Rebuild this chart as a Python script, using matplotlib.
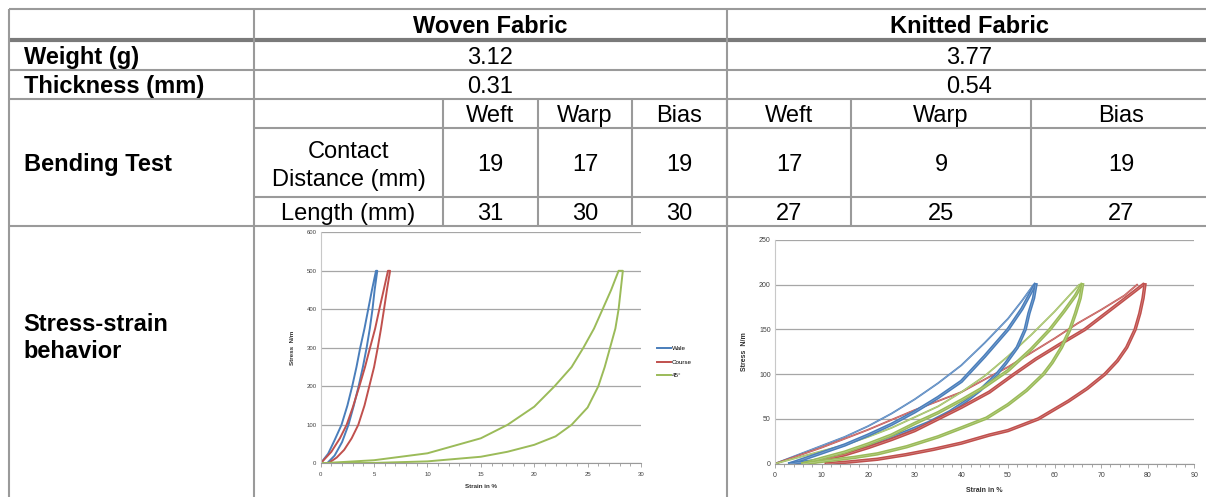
import matplotlib
matplotlib.use("Agg")
import matplotlib.pyplot as plt

plt.rcParams['font.family'] = ['Liberation Sans', 'DejaVu Sans']

# ---- table contents ----
fabrics = ["Woven Fabric", "Knitted Fabric"]
row_labels = ["Weight (g)", "Thickness (mm)", "Bending Test", "Stress-strain\nbehavior"]
weight = ["3.12", "3.77"]
thickness = ["0.31", "0.54"]
directions = ["Weft", "Warp", "Bias", "Weft", "Warp", "Bias"]
contact_distance = [19, 17, 19, 17, 9, 19]
length_mm = [31, 30, 30, 27, 25, 27]

# ---- woven fabric stress-strain (strain %, stress N/m) ----
woven_wale_x = [0, 0.7, 1.3, 1.95, 2.5, 2.95, 3.35, 3.7, 4.1, 4.45, 4.8, 5.18,
                5.3, 5.05, 4.85, 4.6, 4.3, 3.95, 3.55, 3.1, 2.6, 2.0, 1.3, 0.6]
woven_wale_y = [0, 25, 60, 100, 150, 200, 250, 300, 350, 400, 450, 500,
                500, 450, 400, 350, 300, 250, 200, 150, 100, 55, 20, 0]
woven_course_x = [0, 1.0, 1.8, 2.43, 3.0, 3.62, 4.15, 4.62, 5.1, 5.49, 5.9, 6.3,
                  6.5, 6.2, 5.93, 5.65, 5.34, 5.0, 4.55, 4.1, 3.52, 2.9, 2.2, 1.5, 0.7]
woven_course_y = [0, 30, 65, 100, 145, 200, 250, 300, 350, 400, 450, 500,
                  500, 450, 400, 350, 300, 250, 200, 150, 100, 65, 35, 15, 0]
woven_45_x = [0, 5, 10, 15, 17.5, 20, 21.9, 23.5, 24.6, 25.6, 26.4, 27.2, 27.9,
              28.3, 28.1, 27.9, 27.6, 27.1, 26.6, 26.0, 25.0, 23.5, 22.0, 20.0, 17.5, 15, 10, 5, 0]
woven_45_y = [0, 8, 26, 65, 100, 147, 200, 250, 300, 350, 400, 450, 500,
              500, 450, 400, 350, 300, 250, 200, 145, 100, 70, 48, 30, 17, 5, 1, 0]

# ---- knitted fabric stress-strain ----
knit_wale_load1_x = [0, 5, 10, 15, 20, 25, 30, 35, 40, 45, 50, 53, 55.5]
knit_wale_load1_y = [0, 10, 20, 30, 42, 56, 72, 90, 110, 135, 162, 182, 200]
knit_wale_load_x = [3.2, 10, 15, 20, 25, 30, 35, 40, 45, 50, 53, 55.8]
knit_wale_load_y = [0, 12, 21, 32, 44, 58, 74, 92, 120, 150, 173, 200]
knit_wale_unload_x = [56, 55.5, 54.5, 53.7, 52, 49.5, 47.6, 44, 41, 37.5, 33, 28.3, 23, 18, 13, 8, 3.2]
knit_wale_unload_y = [200, 185, 168, 150, 130, 112, 100, 82, 70, 58, 46, 36, 26, 17, 8, 3, 0]

knit_course_load1_x = [0, 5, 10, 15, 20, 25, 30, 35, 40, 46, 50, 55, 60, 65, 70, 75, 77.7]
knit_course_load1_y = [0, 9, 18, 28, 38, 49, 60, 70, 80, 97, 108, 124, 140, 157, 172, 188, 200]
knit_course_load_x = [7, 10, 15, 20, 25, 30, 35, 40, 46, 51.3, 56, 61, 66.5, 71, 75, 79]
knit_course_load_y = [0, 4, 10, 18, 27, 37, 50, 63, 80, 100, 117, 133, 150, 168, 184, 200]
knit_course_unload_x = [79.4, 79, 78.3, 77.3, 75.5, 73.5, 70.8, 67, 63, 56.5, 50, 46, 40, 34, 28, 22, 16, 11]
knit_course_unload_y = [200, 185, 168, 150, 130, 115, 100, 84, 70, 50, 37, 32, 23, 16, 10, 5, 2, 0]

knit_45_load1_x = [0, 5, 10, 15, 20, 25, 30, 35, 40, 45, 50, 55, 60, 63, 65.3]
knit_45_load1_y = [0, 7, 14, 21, 30, 40, 52, 64, 80, 98, 120, 144, 170, 187, 200]
knit_45_load_x = [6, 10, 15, 20, 25, 30, 35, 40, 45, 50, 55, 59, 62, 64.5, 65.8]
knit_45_load_y = [0, 6, 13, 22, 32, 45, 57, 71, 86, 104, 128, 150, 170, 188, 200]
knit_45_unload_x = [66, 65.5, 64.5, 63.3, 61.5, 59.5, 57.6, 54, 50, 45.4, 40, 35, 28.3, 22, 17, 13, 9, 6]
knit_45_unload_y = [200, 185, 168, 150, 130, 113, 100, 82, 66, 51, 40, 30, 19, 11, 7, 4.5, 2, 0]

series_names = ["Wale", "Course", "45°"]
blue, red, green = "#4a7ebb", "#c0504d", "#9bbb59"

# ---- layout in pixels ----
W, H = 1206, 497
x_left, x_lab, x_mid, x_right = 9, 254, 726.5, 1212
col_edges = [443, 538, 632, 726.5, 851, 1031]
sub_centers = [490.5, 585, 679, 789, 941, 1121.5]
y_top, y_head, y_w, y_t, y_dir, y_cd, y_len = 9, 40, 70, 99, 128, 197, 226

fig = plt.figure(figsize=(W / 100, H / 100), dpi=100)
tab = fig.add_axes([0, 0, 1, 1])
tab.set_xlim(0, W)
tab.set_ylim(H, 0)
tab.axis('off')

grey = "#9a9a9a"
lw = 1.5
for y in [y_top, y_w, y_t, y_len]:
    tab.plot([x_left, W], [y, y], color=grey, lw=lw, solid_capstyle='butt')
tab.plot([x_left, W], [y_head, y_head], color="#7a7a7a", lw=3, solid_capstyle='butt')
for y in [y_dir, y_cd]:
    tab.plot([x_lab, W], [y, y], color=grey, lw=lw, solid_capstyle='butt')
for x in [x_left, x_lab, x_mid]:
    tab.plot([x, x], [y_top, H], color=grey, lw=lw, solid_capstyle='butt')
for x in col_edges:
    tab.plot([x, x], [y_t, y_len], color=grey, lw=lw, solid_capstyle='butt')

fs = 17
centers = [(x_lab + x_mid) / 2, (x_mid + x_right) / 2]
for i in range(2):
    tab.text(centers[i], 33, fabrics[i], ha='center', va='baseline', fontsize=fs, fontweight='bold')
    tab.text(centers[i], 64, weight[i], ha='center', va='baseline', fontsize=fs)
    tab.text(centers[i], 93, thickness[i], ha='center', va='baseline', fontsize=fs)

tab.text(24, 64, row_labels[0], ha='left', va='baseline', fontsize=fs, fontweight='bold')
tab.text(24, 93, row_labels[1], ha='left', va='baseline', fontsize=fs, fontweight='bold')
tab.text(24, 171, row_labels[2], ha='left', va='baseline', fontsize=fs, fontweight='bold')
tab.text(23, 358, row_labels[3], ha='left', va='baseline', fontsize=fs, fontweight='bold',
         linespacing=1.2)

sub_x = (x_lab + col_edges[0]) / 2
tab.text(sub_x, 158, "Contact", ha='center', va='baseline', fontsize=fs)
tab.text(sub_x, 186, "Distance (mm)", ha='center', va='baseline', fontsize=fs)
tab.text(sub_x, 220, "Length (mm)", ha='center', va='baseline', fontsize=fs)
for cx, d, c, l in zip(sub_centers, directions, contact_distance, length_mm):
    tab.text(cx, 122, d, ha='center', va='baseline', fontsize=fs)
    tab.text(cx, 171, str(c), ha='center', va='baseline', fontsize=fs)
    tab.text(cx, 220, str(l), ha='center', va='baseline', fontsize=fs)


def chart_axes(left, right, top, bottom):
    ax = fig.add_axes([left / W, (H - bottom) / H, (right - left) / W, (bottom - top) / H])
    ax.set_facecolor('none')
    for s in ['top', 'right']:
        ax.spines[s].set_visible(False)
    ax.spines['left'].set_color('#c8c8c8')
    ax.spines['bottom'].set_color('#9a9a9a')
    ax.spines['left'].set_linewidth(0.8)
    ax.spines['bottom'].set_linewidth(0.8)
    ax.yaxis.grid(True, color='#a6a6a6', lw=0.9)
    ax.set_axisbelow(True)
    ax.tick_params(axis='y', length=0, pad=3)
    ax.tick_params(axis='x', which='both', direction='out', color='#9a9a9a', width=0.6)
    ax.tick_params(axis='x', which='major', length=3, pad=3)
    ax.tick_params(axis='x', which='minor', length=2)
    return ax


# woven chart
ax1 = chart_axes(320.7, 641, 232.3, 463.3)
ax1.plot(woven_wale_x, woven_wale_y, color=blue, lw=1.4, label=series_names[0])
ax1.plot(woven_course_x, woven_course_y, color=red, lw=1.4, label=series_names[1])
ax1.plot(woven_45_x, woven_45_y, color=green, lw=1.4, label=series_names[2])
ax1.set_xlim(0, 30)
ax1.set_ylim(0, 600)
ax1.set_xticks(range(0, 31, 5))
ax1.set_xticks(range(0, 31, 1), minor=True)
ax1.set_yticks(range(0, 601, 100))
ax1.tick_params(labelsize=4.3, labelcolor='#404040')
ax1.text(0.5, -0.101, "Strain in %", transform=ax1.transAxes, ha='center', va='center',
         fontsize=4.5, fontweight='bold', color='#303030')
ax1.text(-0.0865, 0.5, "Stress  N/m", transform=ax1.transAxes, ha='center', va='center',
         rotation=90, fontsize=4.5, fontweight='bold', color='#303030')
ax1.legend(frameon=False, loc='center left', bbox_to_anchor=(1.05, 0.4385), borderaxespad=0,
           borderpad=0, fontsize=4.5, handlelength=2.2, handletextpad=0.2, labelspacing=1.3)

# knitted chart: first loading (thin, doubled), repeated cycles (thick bands)
ax2 = chart_axes(775, 1194.3, 240, 463.7)
for xs, ys, c in [(knit_wale_load1_x, knit_wale_load1_y, blue),
                  (knit_course_load1_x, knit_course_load1_y, red),
                  (knit_45_load1_x, knit_45_load1_y, green)]:
    ax2.plot(xs, ys, color=c, lw=1.3)
    ax2.plot(xs, ys, color='white', lw=0.25, alpha=0.6)
for xs, ys, c in [(knit_wale_load_x, knit_wale_load_y, blue),
                  (knit_wale_unload_x, knit_wale_unload_y, blue),
                  (knit_course_load_x, knit_course_load_y, red),
                  (knit_course_unload_x, knit_course_unload_y, red),
                  (knit_45_load_x, knit_45_load_y, green),
                  (knit_45_unload_x, knit_45_unload_y, green)]:
    ax2.plot(xs, ys, color=c, lw=2.5)
    ax2.plot(xs, ys, color='white', lw=0.3, alpha=0.45)
ax2.set_xlim(0, 90)
ax2.set_ylim(0, 250)
ax2.set_xticks(range(0, 91, 10))
ax2.set_xticks(range(0, 91, 2), minor=True)
ax2.set_yticks(range(0, 251, 50))
ax2.tick_params(labelsize=5, labelcolor='#404040')
ax2.text(0.5, -0.121, "Strain in %", transform=ax2.transAxes, ha='center', va='center',
         fontsize=5, fontweight='bold', color='#303030')
ax2.text(-0.0716, 0.5, "Stress  N/m", transform=ax2.transAxes, ha='center', va='center',
         rotation=90, fontsize=5, fontweight='bold', color='#303030')

fig.savefig("out.png", dpi=100)
